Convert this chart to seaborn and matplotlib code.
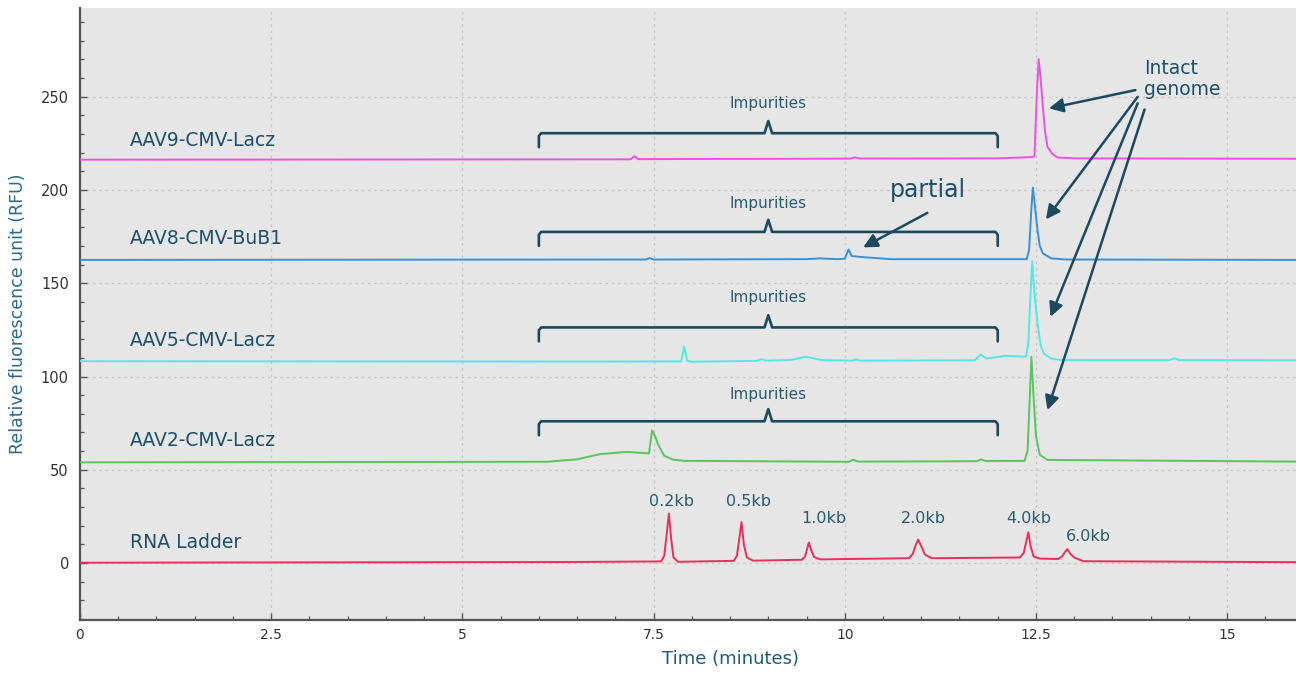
import numpy as np
import pandas as pd
import matplotlib
matplotlib.use("Agg")
import matplotlib.pyplot as plt
import seaborn as sns

# ---------------- data ----------------
samples = ["RNA Ladder", "AAV2-CMV-Lacz", "AAV5-CMV-Lacz", "AAV8-CMV-BuB1", "AAV9-CMV-Lacz"]
colors = ["#e8305a", "#5cc262", "#55e6ea", "#3a90d2", "#ee52e2"]

rna_t = [0, 6.5, 7.6, 7.64, 7.67, 7.70, 7.73, 7.76, 7.82, 8.55, 8.59, 8.62, 8.65, 8.68, 8.72, 8.80,
         9.44, 9.48, 9.51, 9.53, 9.56, 9.60, 9.68, 10.84, 10.89, 10.93, 10.96, 11.0, 11.05, 11.14,
         12.29, 12.34, 12.37, 12.40, 12.43, 12.47, 12.55, 12.79, 12.84, 12.88, 12.91, 12.95, 13.0,
         13.12, 15.9]
rna_v = [0.2, 0.6, 0.9, 4, 15, 26.5, 13, 3, 0.7, 1.2, 4, 13, 22, 10, 3, 1.3,
         1.8, 3.5, 8, 11, 7, 3.2, 2.0, 2.6, 5, 10, 12.6, 9, 4.5, 2.6,
         3.0, 5.5, 11, 16.5, 9, 3.5, 2.4, 2.2, 3.5, 6, 7.5, 5, 3, 1.0, 0.5]

aav2_t = [0, 6.1, 6.5, 6.8, 7.15, 7.44, 7.48, 7.52, 7.56, 7.64, 7.75, 7.9, 10.05, 10.11, 10.17,
          11.73, 11.78, 11.84, 12.35, 12.39, 12.42, 12.44, 12.47, 12.50, 12.55, 12.65, 15.9]
aav2_v = [54.0, 54.3, 55.6, 58.4, 59.6, 58.8, 71.2, 68, 63.5, 57.5, 55.5, 54.8, 54.3, 55.4, 54.4,
          54.6, 55.6, 54.7, 54.8, 60, 90, 110.6, 88, 68, 58, 55.3, 54.4]

aav5_t = [0, 7.0, 7.86, 7.90, 7.94, 8.0, 8.85, 8.91, 8.97, 9.3, 9.49, 9.7, 10.1, 10.15, 10.2, 11.7,
          11.78, 11.85, 12.1, 12.37, 12.40, 12.43, 12.45, 12.48, 12.52, 12.56, 12.60, 12.7, 12.85,
          14.25, 14.31, 14.37, 15.9]
aav5_v = [108.2, 108.0, 108.1, 115.9, 108.4, 107.9, 108.4, 109.3, 108.5, 108.9, 110.6, 108.8, 108.5,
          109.2, 108.5, 108.7, 111.8, 109.6, 111.1, 110.6, 118, 145, 161.8, 145, 128.6, 117, 112.4,
          109.5, 108.8, 108.8, 109.8, 108.8, 108.7]

aav8_t = [0, 7.4, 7.45, 7.5, 9.5, 9.67, 9.9, 10.0, 10.05, 10.09, 10.2, 10.6, 12.38, 12.41, 12.44,
          12.46, 12.49, 12.52, 12.55, 12.59, 12.7, 12.9, 15.9]
aav8_v = [162.5, 162.7, 163.5, 162.7, 162.9, 163.3, 162.9, 163.1, 168.1, 164.6, 164.1, 162.9, 162.9,
          168, 190, 201.3, 190, 178.5, 170, 166.0, 163.3, 162.7, 162.5]

aav9_t = [0, 7.2, 7.25, 7.3, 9.5, 10.08, 10.13, 10.2, 12.0, 12.45, 12.48, 12.51, 12.535, 12.56,
          12.59, 12.62, 12.65, 12.71, 12.78, 13.0, 15.9]
aav9_v = [216.2, 216.4, 218.1, 216.5, 216.7, 216.8, 217.5, 216.8, 216.9, 217.6, 218.1, 250, 270.1,
          260, 244.5, 231, 223.1, 219.5, 217.4, 216.9, 216.7]

times = [rna_t, aav2_t, aav5_t, aav8_t, aav9_t]
values = [rna_v, aav2_v, aav5_v, aav8_v, aav9_v]

label_y = [11.3, 65.9, 119.5, 174.2, 226.6]

# bracket levels (horizontal line) and "Impurities" label heights
bracket_y = [76.0, 126.3, 177.5, 230.4]
impurity_label_y = [90.6, 142.5, 192.9, 246.5]
bracket_left, bracket_mid, bracket_right = 6.0, 9.0, 12.0

ladder_labels = ["0.2kb", "0.5kb", "1.0kb", "2.0kb", "4.0kb", "6.0kb"]
ladder_label_x = [7.73, 8.74, 9.73, 11.03, 12.41, 13.18]
ladder_label_y = [32.9, 32.9, 23.7, 23.7, 23.7, 14.5]

intact_tails = [(13.80, 253.5), (13.83, 249.9), (13.83, 246.4), (13.92, 243.1)]
intact_heads = [(12.67, 243.7), (12.63, 184.2), (12.69, 132.0), (12.65, 82.0)]

# ---------------- build data frame ----------------
rows = []
for s, t, v in zip(samples, times, values):
    for ti, vi in zip(t, v):
        rows.append({"time": ti, "rfu": vi, "sample": s})
df = pd.DataFrame(rows)

# ---------------- plot ----------------
sns.set_theme(style="white")
plt.rcParams["font.family"] = ["DejaVu Sans"]

fig = plt.figure(figsize=(12.96, 6.75), dpi=100)
ax = fig.add_axes([80 / 1296, 55 / 675, 1216 / 1296, 612 / 675])
ax.set_facecolor("#e6e6e6")

sns.lineplot(data=df, x="time", y="rfu", hue="sample", hue_order=samples,
             palette=dict(zip(samples, colors)), estimator=None, sort=False,
             legend=False, linewidth=1.4, ax=ax, zorder=3)

ax.set_xlim(0, 15.9)
ax.set_ylim(-30.5, 297.5)
ax.set_xticks(np.arange(0, 15.1, 2.5))
ax.set_xticklabels(["0", "2.5", "5", "7.5", "10", "12.5", "15"])
ax.set_xticks(np.arange(0, 15.9, 0.5), minor=True)
ax.set_yticks([0, 50, 100, 150, 200, 250])
ax.set_yticks(np.arange(-30, 297, 10), minor=True)

ax.grid(True, which="major", linestyle=(0, (2, 3)), color="#c4c4c4", linewidth=0.9, zorder=0)
ax.set_axisbelow(True)

for side in ["top", "right"]:
    ax.spines[side].set_visible(False)
for side in ["left", "bottom"]:
    ax.spines[side].set_color("#555555")
    ax.spines[side].set_linewidth(1.6)

ax.tick_params(which="both", bottom=True, left=True, top=False, right=False)
ax.tick_params(which="major", direction="in", length=5, width=1.0, color="#555555",
               labelsize=10, labelcolor="#333333", pad=6)
ax.tick_params(which="minor", direction="in", length=3, width=0.9, color="#555555")
ax.tick_params(axis="y", labelsize=10.5, pad=8)

ax.set_xlabel("Time (minutes)", fontsize=13, color="#1f5a78")
ax.xaxis.set_label_coords((730 - 80) / 1216, -30 / 612)
ax.set_ylabel("Relative fluorescence unit (RFU)", fontsize=12.5, color="#2a6a88")
ax.yaxis.set_label_coords(-53 / 1216, 0.5)

txt_color = "#1d5068"
for s, ly in zip(samples, label_y):
    ax.text(0.65, ly, s, fontsize=13.5, color=txt_color, ha="left", va="center", zorder=5)

# brackets
br_color = "#1b4a5e"
for by, ty in zip(bracket_y, impurity_label_y):
    xs = [bracket_left, bracket_left, bracket_left + 0.03, bracket_mid - 0.05, bracket_mid,
          bracket_mid + 0.05, bracket_right - 0.03, bracket_right, bracket_right]
    ys = [by - 7.5, by - 1.5, by, by, by + 6.5, by, by, by - 1.5, by - 7.5]
    ax.plot(xs, ys, color=br_color, lw=1.9, solid_capstyle="round", solid_joinstyle="round", zorder=4)
    ax.text(bracket_mid, ty, "Impurities", fontsize=11, color="#2a5a70", ha="center", va="center")

for lab, lx, ly in zip(ladder_labels, ladder_label_x, ladder_label_y):
    ax.text(lx, ly, lab, fontsize=11.5, color="#2a5a70", ha="center", va="center")

# partial annotation
ax.annotate("", xy=(10.24, 169.2), xytext=(11.08, 187.7),
            arrowprops=dict(arrowstyle="-|>,head_length=0.7,head_width=0.35", color=br_color, lw=1.8,
                            shrinkA=0, shrinkB=0), zorder=6)
ax.text(11.09, 196.3, "partial", fontsize=17, color=txt_color, ha="center", va="baseline")

# intact genome annotation
ax.text(13.91, 259.4, "Intact\ngenome", fontsize=13.5, color=txt_color, ha="left", va="center",
        linespacing=1.15)
for (tx, ty), (hx, hy) in zip(intact_tails, intact_heads):
    ax.annotate("", xy=(hx, hy), xytext=(tx, ty),
                arrowprops=dict(arrowstyle="-|>,head_length=0.7,head_width=0.35", color=br_color,
                                lw=1.8, shrinkA=0, shrinkB=0), zorder=6)

fig.savefig("out.png", dpi=100, facecolor="white")
